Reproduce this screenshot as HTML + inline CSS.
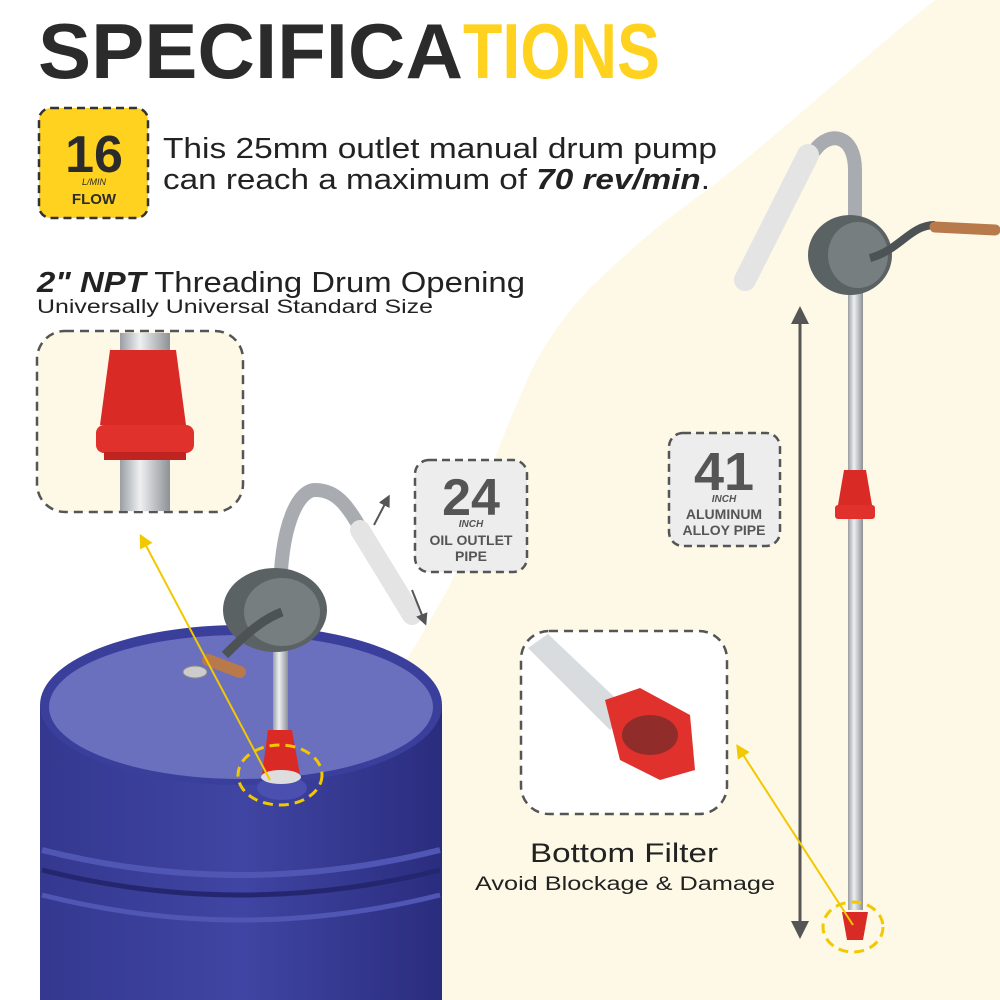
<!DOCTYPE html>
<html><head><meta charset="utf-8"><style>
html,body{margin:0;padding:0;background:#fff}
svg{display:block}
text{font-family:"Liberation Sans",sans-serif}
</style></head><body>
<svg width="1000" height="1000" viewBox="0 0 1000 1000" xmlns="http://www.w3.org/2000/svg">
<defs>
<linearGradient id="pipe" x1="0" x2="1" y1="0" y2="0"><stop offset="0" stop-color="#9a9ea3"/><stop offset=".4" stop-color="#eef0f2"/><stop offset="1" stop-color="#8d9196"/></linearGradient>
<linearGradient id="barrel" x1="0" x2="1"><stop offset="0" stop-color="#34388f"/><stop offset=".5" stop-color="#4045a3"/><stop offset="1" stop-color="#2a2d7e"/></linearGradient>
<marker id="ah" viewBox="0 0 10 10" refX="5" refY="5" markerWidth="6" markerHeight="6" orient="auto-start-reverse"><path d="M0,0L10,5L0,10z" fill="#555"/></marker>
<marker id="ay" viewBox="0 0 10 10" refX="5" refY="5" markerWidth="7" markerHeight="7" orient="auto"><path d="M0,0L10,5L0,10z" fill="#f2c800"/></marker>
</defs>
<path d="M935,0 C860,60 760,150 706,191 C650,230 620,260 591,287 C560,320 540,350 526,383 C505,430 490,470 477,510 C465,550 455,580 438,606 C425,630 410,655 400,670 L440,700 L440,1000 L1000,1000 L1000,0 Z" fill="#fdf9e6"/>
<text x="38" y="78" font-size="78" font-weight="bold" fill="#2b2b2b" textLength="425" lengthAdjust="spacingAndGlyphs">SPECIFICA</text>
<text x="463" y="78" font-size="78" font-weight="bold" fill="#ffd21f" textLength="197" lengthAdjust="spacingAndGlyphs">TIONS</text>
<rect x="39" y="108" width="109" height="110" rx="12" fill="#ffd21f" stroke="#333" stroke-width="2.5" stroke-dasharray="8 5"/>
<text x="94" y="172" font-size="52" font-weight="bold" fill="#2b2b2b" text-anchor="middle">16</text>
<text x="94" y="185" font-size="9" font-style="italic" font-family="Liberation Serif" fill="#2b2b2b" text-anchor="middle">L/MIN</text>
<text x="94" y="204" font-size="15" font-weight="bold" fill="#2b2b2b" text-anchor="middle">FLOW</text>
<text x="163" y="158" font-size="29" fill="#222" textLength="554" lengthAdjust="spacingAndGlyphs">This 25mm outlet manual drum pump</text>
<text x="163" y="189" font-size="29" fill="#222" textLength="547" lengthAdjust="spacingAndGlyphs">can reach a maximum of <tspan font-weight="bold" font-style="italic">70 rev/min</tspan>.</text>
<text x="37" y="292" font-size="29" fill="#222" textLength="488" lengthAdjust="spacingAndGlyphs"><tspan font-weight="bold" font-style="italic">2" NPT</tspan> Threading Drum Opening</text>
<text x="37" y="313" font-size="19" fill="#222" textLength="396" lengthAdjust="spacingAndGlyphs">Universally Universal Standard Size</text>
<rect x="37" y="331" width="206" height="181" rx="28" fill="#fdf9e6" stroke="#555" stroke-width="2.5" stroke-dasharray="9 6"/>
<rect x="120" y="333" width="50" height="178" fill="url(#pipe)"/>
<path d="M110,350 L176,350 L182,395 L186,425 L100,425 L104,395 Z" fill="#d92a26"/>
<rect x="96" y="425" width="98" height="28" rx="8" fill="#e0312c"/>
<rect x="104" y="452" width="82" height="8" fill="#c02420"/>
<rect x="415" y="460" width="112" height="112" rx="14" fill="#ededed" stroke="#555" stroke-width="2.5" stroke-dasharray="8 5"/>
<text x="471" y="515" font-size="52" font-weight="bold" fill="#555" text-anchor="middle">24</text>
<text x="471" y="527" font-size="10" font-style="italic" font-weight="bold" font-family="Liberation Serif" fill="#555" text-anchor="middle">INCH</text>
<text x="471" y="545" font-size="14" font-weight="bold" fill="#555" text-anchor="middle">OIL OUTLET</text>
<text x="471" y="561" font-size="14" font-weight="bold" fill="#555" text-anchor="middle">PIPE</text>
<rect x="669" y="433" width="111" height="113" rx="14" fill="#ededed" stroke="#555" stroke-width="2.5" stroke-dasharray="8 5"/>
<text x="724" y="490" font-size="54" font-weight="bold" fill="#555" text-anchor="middle">41</text>
<text x="724" y="502" font-size="10" font-style="italic" font-weight="bold" font-family="Liberation Serif" fill="#555" text-anchor="middle">INCH</text>
<text x="724" y="519" font-size="14" font-weight="bold" fill="#555" text-anchor="middle">ALUMINUM</text>
<text x="724" y="535" font-size="14" font-weight="bold" fill="#555" text-anchor="middle">ALLOY PIPE</text>
<rect x="521" y="631" width="206" height="183" rx="28" fill="#fff" stroke="#555" stroke-width="2.5" stroke-dasharray="9 6"/>
<path d="M528,648 L548,634 L628,710 L610,730 Z" fill="#d9dcdf"/>
<path d="M605,700 L640,688 L690,715 L695,770 L660,780 L620,760 Z" fill="#e0312c"/>
<ellipse cx="650" cy="735" rx="28" ry="20" fill="#5a2a28" opacity=".6"/>
<text x="624" y="862" font-size="27" fill="#222" text-anchor="middle" textLength="188" lengthAdjust="spacingAndGlyphs">Bottom Filter</text>
<text x="625" y="890" font-size="19" fill="#222" text-anchor="middle" textLength="300" lengthAdjust="spacingAndGlyphs">Avoid Blockage &amp; Damage</text>
<rect x="40" y="705" width="402" height="300" fill="url(#barrel)"/>
<path d="M42,850 Q240,900 440,850" stroke="#5056b3" stroke-width="6" fill="none"/>
<path d="M42,870 Q240,920 440,870" stroke="#24276f" stroke-width="5" fill="none"/>
<path d="M42,895 Q240,945 440,895" stroke="#5056b3" stroke-width="5" fill="none"/>
<ellipse cx="241" cy="705" rx="201" ry="80" fill="#3b3f9c"/>
<ellipse cx="241" cy="707" rx="192" ry="72" fill="#6a6fbe"/>
<ellipse cx="195" cy="672" rx="12" ry="6" fill="#ccc" stroke="#888"/>
<ellipse cx="282" cy="788" rx="25" ry="12" fill="#4a4fb0"/>
<path d="M280,740 L280,600 C280,520 300,490 315,490 C340,490 350,510 370,545" stroke="#a8acb1" stroke-width="14" fill="none" stroke-linecap="round"/>
<path d="M360,530 L412,615" stroke="#e4e4e4" stroke-width="20" stroke-linecap="round"/>
<rect x="273" y="640" width="15" height="100" fill="url(#pipe)"/>
<path d="M268,730 L292,730 L300,775 L262,775 Z" fill="#d92a26"/>
<ellipse cx="281" cy="777" rx="20" ry="7" fill="#ddd"/>
<ellipse cx="275" cy="610" rx="52" ry="42" fill="#5b6264"/>
<ellipse cx="282" cy="612" rx="38" ry="34" fill="#777e80"/>
<path d="M282,612 C260,620 240,640 225,655" stroke="#4d5355" stroke-width="9" fill="none"/>
<path d="M208,660 L240,672" stroke="#b87a4a" stroke-width="12" stroke-linecap="round"/>
<line x1="374" y1="525" x2="387" y2="500" stroke="#555" stroke-width="2" marker-end="url(#ah)"/>
<line x1="412" y1="590" x2="424" y2="620" stroke="#555" stroke-width="2" marker-end="url(#ah)"/>
<ellipse cx="280" cy="775" rx="42" ry="30" fill="none" stroke="#f2c800" stroke-width="3" stroke-dasharray="10 6"/>
<line x1="270" y1="780" x2="143" y2="540" stroke="#f2c800" stroke-width="2" marker-end="url(#ay)"/>
<path d="M855,300 L855,170 C855,135 830,130 815,150" stroke="#a8acb1" stroke-width="14" fill="none" stroke-linecap="round"/>
<path d="M808,155 L745,280" stroke="#e4e4e4" stroke-width="22" stroke-linecap="round"/>
<rect x="848" y="290" width="15" height="620" fill="url(#pipe)"/>
<path d="M844,470 L866,470 L872,505 L838,505 Z" fill="#d92a26"/>
<rect x="835" y="505" width="40" height="14" rx="3" fill="#e0312c"/>
<ellipse cx="850" cy="255" rx="42" ry="40" fill="#5b6264"/>
<ellipse cx="858" cy="255" rx="30" ry="33" fill="#777e80"/>
<path d="M870,258 C900,250 910,225 935,225" stroke="#4d5355" stroke-width="8" fill="none"/>
<path d="M935,227 L995,230" stroke="#b87a4a" stroke-width="11" stroke-linecap="round"/>
<path d="M842,912 L868,912 L863,940 L847,940 Z" fill="#d92a26"/>
<line x1="800" y1="315" x2="800" y2="930" stroke="#555" stroke-width="3" marker-start="url(#ah)" marker-end="url(#ah)"/>
<ellipse cx="853" cy="927" rx="30" ry="25" fill="none" stroke="#f2c800" stroke-width="3" stroke-dasharray="10 6"/>
<line x1="853" y1="925" x2="740" y2="750" stroke="#f2c800" stroke-width="2" marker-end="url(#ay)"/>
</svg>
</body></html>
